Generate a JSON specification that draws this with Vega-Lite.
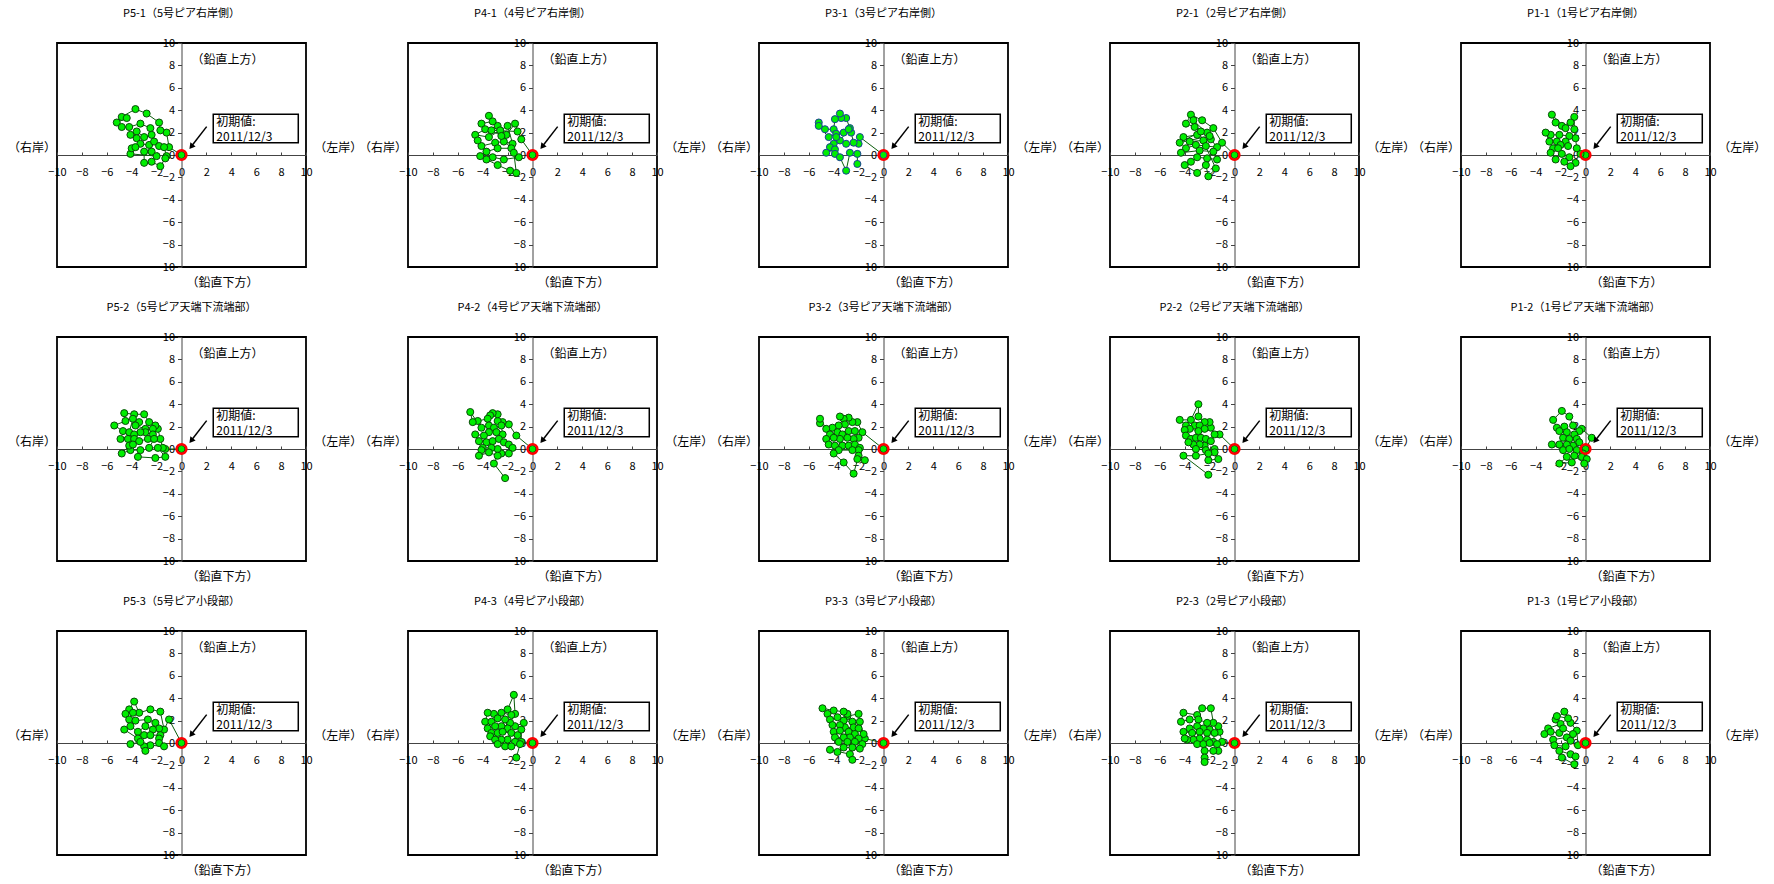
{
"$schema":"https://vega.github.io/schema/vega-lite/v6.json",
"padding":{"left":7,"top":7,"right":5,"bottom":5},
"background":"white",
"datasets":{
"titles":[
{"p":"P5-1","t":"P5-1（5号ピア右岸側）","o":1},{"p":"P4-1","t":"P4-1（4号ピア右岸側）","o":2},{"p":"P3-1","t":"P3-1（3号ピア右岸側）","o":3},{"p":"P2-1","t":"P2-1（2号ピア右岸側）","o":4},{"p":"P1-1","t":"P1-1（1号ピア右岸側）","o":5},
{"p":"P5-2","t":"P5-2（5号ピア天端下流端部）","o":6},{"p":"P4-2","t":"P4-2（4号ピア天端下流端部）","o":7},{"p":"P3-2","t":"P3-2（3号ピア天端下流端部）","o":8},{"p":"P2-2","t":"P2-2（2号ピア天端下流端部）","o":9},{"p":"P1-2","t":"P1-2（1号ピア天端下流端部）","o":10},
{"p":"P5-3","t":"P5-3（5号ピア小段部）","o":11},{"p":"P4-3","t":"P4-3（4号ピア小段部）","o":12},{"p":"P3-3","t":"P3-3（3号ピア小段部）","o":13},{"p":"P2-3","t":"P2-3（2号ピア小段部）","o":14},{"p":"P1-3","t":"P1-3（1号ピア小段部）","o":15}],
"pts":[
{"p":"P5-1","i":0,"x":0,"y":0},{"p":"P5-1","i":1,"x":-1.0,"y":0.7},{"p":"P5-1","i":2,"x":-1.2,"y":2.0},{"p":"P5-1","i":3,"x":-1.7,"y":2.2},{"p":"P5-1","i":4,"x":-1.8,"y":2.9},{"p":"P5-1","i":5,"x":-2.8,"y":3.7},{"p":"P5-1","i":6,"x":-3.7,"y":4.1},{"p":"P5-1","i":7,"x":-4.8,"y":3.4},{"p":"P5-1","i":8,"x":-4.4,"y":3.3},{"p":"P5-1","i":9,"x":-5.2,"y":2.9},{"p":"P5-1","i":10,"x":-4.8,"y":2.5},{"p":"P5-1","i":11,"x":-4.2,"y":2.5},{"p":"P5-1","i":12,"x":-3.3,"y":2.8},{"p":"P5-1","i":13,"x":-2.5,"y":2.4},{"p":"P5-1","i":14,"x":-2.4,"y":1.8},{"p":"P5-1","i":15,"x":-3.0,"y":1.6},{"p":"P5-1","i":16,"x":-3.6,"y":2.1},{"p":"P5-1","i":17,"x":-4.1,"y":1.8},{"p":"P5-1","i":18,"x":-3.6,"y":1.5},{"p":"P5-1","i":19,"x":-3.3,"y":1.0},{"p":"P5-1","i":20,"x":-2.6,"y":0.9},{"p":"P5-1","i":21,"x":-2.2,"y":1.2},{"p":"P5-1","i":22,"x":-1.8,"y":0.8},{"p":"P5-1","i":23,"x":-1.4,"y":0.7},{"p":"P5-1","i":24,"x":-1.2,"y":-0.1},{"p":"P5-1","i":25,"x":-1.3,"y":-0.3},{"p":"P5-1","i":26,"x":-1.7,"y":-1.0},{"p":"P5-1","i":27,"x":-2.4,"y":-0.6},{"p":"P5-1","i":28,"x":-3.0,"y":-0.7},{"p":"P5-1","i":29,"x":-3.0,"y":0.3},{"p":"P5-1","i":30,"x":-2.4,"y":0.3},{"p":"P5-1","i":31,"x":-2.0,"y":-0.1},{"p":"P5-1","i":32,"x":-4.1,"y":0.1},{"p":"P5-1","i":33,"x":-4.0,"y":0.6},{"p":"P5-1","i":34,"x":-3.7,"y":0.7},
{"p":"P4-1","i":0,"x":0,"y":0},{"p":"P4-1","i":1,"x":-0.9,"y":1.4},{"p":"P4-1","i":2,"x":-1.4,"y":2.8},{"p":"P4-1","i":3,"x":-2.1,"y":1.8},{"p":"P4-1","i":4,"x":-2.8,"y":2.6},{"p":"P4-1","i":5,"x":-3.5,"y":3.5},{"p":"P4-1","i":6,"x":-3.2,"y":3.0},{"p":"P4-1","i":7,"x":-4.1,"y":2.8},{"p":"P4-1","i":8,"x":-3.8,"y":2.3},{"p":"P4-1","i":9,"x":-4.6,"y":1.8},{"p":"P4-1","i":10,"x":-3.5,"y":1.6},{"p":"P4-1","i":11,"x":-2.6,"y":2.2},{"p":"P4-1","i":12,"x":-2.0,"y":2.6},{"p":"P4-1","i":13,"x":-1.6,"y":1.0},{"p":"P4-1","i":14,"x":-2.3,"y":1.2},{"p":"P4-1","i":15,"x":-3.0,"y":1.1},{"p":"P4-1","i":16,"x":-4.1,"y":0.8},{"p":"P4-1","i":17,"x":-4.4,"y":1.3},{"p":"P4-1","i":18,"x":-3.7,"y":0.3},{"p":"P4-1","i":19,"x":-2.8,"y":0.6},{"p":"P4-1","i":20,"x":-1.7,"y":0.6},{"p":"P4-1","i":21,"x":-1.1,"y":-0.2},{"p":"P4-1","i":22,"x":-2.3,"y":-0.4},{"p":"P4-1","i":23,"x":-3.2,"y":-0.2},{"p":"P4-1","i":24,"x":-3.7,"y":-0.4},{"p":"P4-1","i":25,"x":-4.2,"y":-0.1},{"p":"P4-1","i":26,"x":-2.8,"y":-0.9},{"p":"P4-1","i":27,"x":-1.8,"y":-1.4},{"p":"P4-1","i":28,"x":-1.3,"y":-1.6},{"p":"P4-1","i":29,"x":-1.5,"y":0.2},{"p":"P4-1","i":30,"x":-2.5,"y":1.7},{"p":"P4-1","i":31,"x":-3.3,"y":2.2},{"p":"P4-1","i":32,"x":-1.2,"y":2.1},
{"p":"P3-1","i":0,"x":0,"y":0},{"p":"P3-1","i":1,"x":-1.9,"y":1.6},{"p":"P3-1","i":2,"x":-2.0,"y":1.0},{"p":"P3-1","i":3,"x":-2.4,"y":1.1},{"p":"P3-1","i":4,"x":-2.6,"y":2.0},{"p":"P3-1","i":5,"x":-2.7,"y":2.4},{"p":"P3-1","i":6,"x":-3.0,"y":3.3},{"p":"P3-1","i":7,"x":-3.4,"y":3.3},{"p":"P3-1","i":8,"x":-3.5,"y":3.7},{"p":"P3-1","i":9,"x":-3.9,"y":3.2},{"p":"P3-1","i":10,"x":-4.0,"y":2.3},{"p":"P3-1","i":11,"x":-4.7,"y":2.3},{"p":"P3-1","i":12,"x":-5.2,"y":2.9},{"p":"P3-1","i":13,"x":-5.2,"y":2.6},{"p":"P3-1","i":14,"x":-4.4,"y":1.6},{"p":"P3-1","i":15,"x":-3.8,"y":1.9},{"p":"P3-1","i":16,"x":-3.2,"y":2.0},{"p":"P3-1","i":17,"x":-2.8,"y":2.3},{"p":"P3-1","i":18,"x":-3.5,"y":1.3},{"p":"P3-1","i":19,"x":-3.0,"y":1.0},{"p":"P3-1","i":20,"x":-3.8,"y":1.6},{"p":"P3-1","i":21,"x":-4.0,"y":1.0},{"p":"P3-1","i":22,"x":-4.3,"y":0.7},{"p":"P3-1","i":23,"x":-4.6,"y":0.2},{"p":"P3-1","i":24,"x":-3.9,"y":0.5},{"p":"P3-1","i":25,"x":-3.9,"y":0.1},{"p":"P3-1","i":26,"x":-3.5,"y":-0.2},{"p":"P3-1","i":27,"x":-3.0,"y":-1.4},{"p":"P3-1","i":28,"x":-2.7,"y":0.2},{"p":"P3-1","i":29,"x":-2.1,"y":0.1},{"p":"P3-1","i":30,"x":-2.1,"y":-0.8},
{"p":"P2-1","i":0,"x":0,"y":0},{"p":"P2-1","i":1,"x":-1.0,"y":1.1},{"p":"P2-1","i":2,"x":-1.7,"y":2.4},{"p":"P2-1","i":3,"x":-2.6,"y":3.1},{"p":"P2-1","i":4,"x":-3.5,"y":3.6},{"p":"P2-1","i":5,"x":-3.9,"y":2.8},{"p":"P2-1","i":6,"x":-3.2,"y":2.5},{"p":"P2-1","i":7,"x":-2.2,"y":2.0},{"p":"P2-1","i":8,"x":-3.0,"y":1.8},{"p":"P2-1","i":9,"x":-4.1,"y":1.6},{"p":"P2-1","i":10,"x":-3.6,"y":1.2},{"p":"P2-1","i":11,"x":-2.5,"y":1.3},{"p":"P2-1","i":12,"x":-1.9,"y":1.4},{"p":"P2-1","i":13,"x":-1.4,"y":0.7},{"p":"P2-1","i":14,"x":-2.3,"y":0.8},{"p":"P2-1","i":15,"x":-3.1,"y":0.9},{"p":"P2-1","i":16,"x":-3.9,"y":0.6},{"p":"P2-1","i":17,"x":-4.3,"y":0.2},{"p":"P2-1","i":18,"x":-2.8,"y":0.4},{"p":"P2-1","i":19,"x":-1.7,"y":0.3},{"p":"P2-1","i":20,"x":-1.4,"y":-0.4},{"p":"P2-1","i":21,"x":-2.2,"y":-0.3},{"p":"P2-1","i":22,"x":-3.0,"y":-0.2},{"p":"P2-1","i":23,"x":-3.5,"y":-0.6},{"p":"P2-1","i":24,"x":-4.0,"y":-0.9},{"p":"P2-1","i":25,"x":-3.0,"y":-1.6},{"p":"P2-1","i":26,"x":-2.3,"y":-0.9},{"p":"P2-1","i":27,"x":-2.1,"y":-1.9},{"p":"P2-1","i":28,"x":-1.5,"y":-1.2},{"p":"P2-1","i":29,"x":-3.3,"y":3.1},{"p":"P2-1","i":30,"x":-2.0,"y":1.7},{"p":"P2-1","i":31,"x":-4.4,"y":1.1},{"p":"P2-1","i":32,"x":-2.7,"y":2.1},
{"p":"P1-1","i":0,"x":0,"y":0},{"p":"P1-1","i":1,"x":-0.4,"y":0.1},{"p":"P1-1","i":2,"x":-0.7,"y":0.6},{"p":"P1-1","i":3,"x":-0.8,"y":1.5},{"p":"P1-1","i":4,"x":-0.9,"y":2.3},{"p":"P1-1","i":5,"x":-0.9,"y":3.4},{"p":"P1-1","i":6,"x":-1.2,"y":2.9},{"p":"P1-1","i":7,"x":-1.9,"y":2.6},{"p":"P1-1","i":8,"x":-2.4,"y":2.9},{"p":"P1-1","i":9,"x":-2.7,"y":3.6},{"p":"P1-1","i":10,"x":-1.6,"y":2.4},{"p":"P1-1","i":11,"x":-1.3,"y":1.7},{"p":"P1-1","i":12,"x":-2.1,"y":1.8},{"p":"P1-1","i":13,"x":-2.8,"y":1.8},{"p":"P1-1","i":14,"x":-3.2,"y":2.0},{"p":"P1-1","i":15,"x":-2.9,"y":1.2},{"p":"P1-1","i":16,"x":-2.3,"y":1.2},{"p":"P1-1","i":17,"x":-1.6,"y":1.2},{"p":"P1-1","i":18,"x":-1.4,"y":0.8},{"p":"P1-1","i":19,"x":-2.0,"y":0.9},{"p":"P1-1","i":20,"x":-2.6,"y":0.6},{"p":"P1-1","i":21,"x":-2.2,"y":0.6},{"p":"P1-1","i":22,"x":-2.8,"y":0.2},{"p":"P1-1","i":23,"x":-2.4,"y":-0.4},{"p":"P1-1","i":24,"x":-1.9,"y":0.1},{"p":"P1-1","i":25,"x":-1.3,"y":-0.2},{"p":"P1-1","i":26,"x":-0.8,"y":-0.7},{"p":"P1-1","i":27,"x":-1.2,"y":-1.0},{"p":"P1-1","i":28,"x":-1.7,"y":-0.6},
{"p":"P5-2","i":0,"x":0,"y":0},{"p":"P5-2","i":1,"x":-1.3,"y":0.0},{"p":"P5-2","i":2,"x":-1.5,"y":0.1},{"p":"P5-2","i":3,"x":-1.7,"y":0.9},{"p":"P5-2","i":4,"x":-1.9,"y":1.8},{"p":"P5-2","i":5,"x":-2.1,"y":2.1},{"p":"P5-2","i":6,"x":-2.6,"y":2.4},{"p":"P5-2","i":7,"x":-3.0,"y":3.1},{"p":"P5-2","i":8,"x":-3.8,"y":3.1},{"p":"P5-2","i":9,"x":-4.6,"y":3.2},{"p":"P5-2","i":10,"x":-4.5,"y":2.5},{"p":"P5-2","i":11,"x":-5.4,"y":2.1},{"p":"P5-2","i":12,"x":-4.7,"y":1.6},{"p":"P5-2","i":13,"x":-4.2,"y":1.5},{"p":"P5-2","i":14,"x":-3.9,"y":2.7},{"p":"P5-2","i":15,"x":-3.4,"y":2.4},{"p":"P5-2","i":16,"x":-3.7,"y":2.1},{"p":"P5-2","i":17,"x":-2.9,"y":1.8},{"p":"P5-2","i":18,"x":-2.3,"y":1.8},{"p":"P5-2","i":19,"x":-2.3,"y":1.3},{"p":"P5-2","i":20,"x":-2.9,"y":1.5},{"p":"P5-2","i":21,"x":-3.3,"y":1.5},{"p":"P5-2","i":22,"x":-3.8,"y":1.3},{"p":"P5-2","i":23,"x":-4.9,"y":0.9},{"p":"P5-2","i":24,"x":-4.3,"y":0.9},{"p":"P5-2","i":25,"x":-3.8,"y":0.9},{"p":"P5-2","i":26,"x":-3.4,"y":0.7},{"p":"P5-2","i":27,"x":-2.7,"y":0.9},{"p":"P5-2","i":28,"x":-2.2,"y":0.9},{"p":"P5-2","i":29,"x":-2.6,"y":0.1},{"p":"P5-2","i":30,"x":-1.9,"y":0.1},{"p":"P5-2","i":31,"x":-1.3,"y":-0.7},{"p":"P5-2","i":32,"x":-2.1,"y":-0.8},{"p":"P5-2","i":33,"x":-3.5,"y":-0.7},{"p":"P5-2","i":34,"x":-3.3,"y":-0.1},{"p":"P5-2","i":35,"x":-4.1,"y":-0.1},{"p":"P5-2","i":36,"x":-4.8,"y":-0.4},{"p":"P5-2","i":37,"x":-4.2,"y":0.3},{"p":"P5-2","i":38,"x":-3.9,"y":0.4},
{"p":"P4-2","i":0,"x":0,"y":0},{"p":"P4-2","i":1,"x":-1.3,"y":1.2},{"p":"P4-2","i":2,"x":-1.9,"y":2.2},{"p":"P4-2","i":3,"x":-2.4,"y":2.4},{"p":"P4-2","i":4,"x":-2.8,"y":2.5},{"p":"P4-2","i":5,"x":-2.8,"y":3.1},{"p":"P4-2","i":6,"x":-3.2,"y":3.2},{"p":"P4-2","i":7,"x":-3.4,"y":3.0},{"p":"P4-2","i":8,"x":-3.6,"y":2.7},{"p":"P4-2","i":9,"x":-4.4,"y":2.5},{"p":"P4-2","i":10,"x":-4.8,"y":2.4},{"p":"P4-2","i":11,"x":-5.0,"y":3.3},{"p":"P4-2","i":12,"x":-4.1,"y":1.9},{"p":"P4-2","i":13,"x":-3.5,"y":2.1},{"p":"P4-2","i":14,"x":-3.1,"y":1.9},{"p":"P4-2","i":15,"x":-2.5,"y":2.1},{"p":"P4-2","i":16,"x":-2.4,"y":1.3},{"p":"P4-2","i":17,"x":-2.9,"y":1.5},{"p":"P4-2","i":18,"x":-3.5,"y":1.5},{"p":"P4-2","i":19,"x":-3.9,"y":1.2},{"p":"P4-2","i":20,"x":-4.6,"y":1.3},{"p":"P4-2","i":21,"x":-4.3,"y":0.7},{"p":"P4-2","i":22,"x":-3.7,"y":0.6},{"p":"P4-2","i":23,"x":-3.2,"y":0.7},{"p":"P4-2","i":24,"x":-2.7,"y":0.9},{"p":"P4-2","i":25,"x":-2.3,"y":0.6},{"p":"P4-2","i":26,"x":-1.9,"y":0.4},{"p":"P4-2","i":27,"x":-1.6,"y":0.1},{"p":"P4-2","i":28,"x":-1.9,"y":-0.4},{"p":"P4-2","i":29,"x":-2.5,"y":-0.4},{"p":"P4-2","i":30,"x":-2.8,"y":0.0},{"p":"P4-2","i":31,"x":-3.3,"y":0.1},{"p":"P4-2","i":32,"x":-4.0,"y":0.1},{"p":"P4-2","i":33,"x":-4.1,"y":-0.1},{"p":"P4-2","i":34,"x":-4.3,"y":-0.6},{"p":"P4-2","i":35,"x":-3.5,"y":-0.3},{"p":"P4-2","i":36,"x":-2.8,"y":-0.6},{"p":"P4-2","i":37,"x":-3.1,"y":-1.3},{"p":"P4-2","i":38,"x":-2.2,"y":-2.6},
{"p":"P3-2","i":0,"x":0,"y":0},{"p":"P3-2","i":1,"x":-1.7,"y":1.5},{"p":"P3-2","i":2,"x":-2.1,"y":2.4},{"p":"P3-2","i":3,"x":-2.5,"y":2.4},{"p":"P3-2","i":4,"x":-2.8,"y":2.8},{"p":"P3-2","i":5,"x":-3.2,"y":2.7},{"p":"P3-2","i":6,"x":-3.5,"y":2.9},{"p":"P3-2","i":7,"x":-3.1,"y":2.2},{"p":"P3-2","i":8,"x":-3.6,"y":2.1},{"p":"P3-2","i":9,"x":-4.1,"y":1.9},{"p":"P3-2","i":10,"x":-4.6,"y":1.8},{"p":"P3-2","i":11,"x":-5.1,"y":2.3},{"p":"P3-2","i":12,"x":-5.1,"y":2.7},{"p":"P3-2","i":13,"x":-4.3,"y":1.3},{"p":"P3-2","i":14,"x":-3.7,"y":1.5},{"p":"P3-2","i":15,"x":-3.3,"y":1.3},{"p":"P3-2","i":16,"x":-2.8,"y":1.6},{"p":"P3-2","i":17,"x":-2.3,"y":1.6},{"p":"P3-2","i":18,"x":-2.0,"y":1.0},{"p":"P3-2","i":19,"x":-2.4,"y":0.9},{"p":"P3-2","i":20,"x":-2.9,"y":1.0},{"p":"P3-2","i":21,"x":-3.5,"y":0.9},{"p":"P3-2","i":22,"x":-4.0,"y":1.0},{"p":"P3-2","i":23,"x":-4.6,"y":0.9},{"p":"P3-2","i":24,"x":-4.4,"y":0.4},{"p":"P3-2","i":25,"x":-3.9,"y":0.3},{"p":"P3-2","i":26,"x":-3.3,"y":0.3},{"p":"P3-2","i":27,"x":-2.8,"y":0.3},{"p":"P3-2","i":28,"x":-2.3,"y":0.4},{"p":"P3-2","i":29,"x":-1.9,"y":0.1},{"p":"P3-2","i":30,"x":-2.0,"y":-0.1},{"p":"P3-2","i":31,"x":-2.5,"y":-0.1},{"p":"P3-2","i":32,"x":-3.6,"y":-0.1},{"p":"P3-2","i":33,"x":-4.0,"y":-0.4},{"p":"P3-2","i":34,"x":-3.2,"y":-1.2},{"p":"P3-2","i":35,"x":-2.4,"y":-2.2},{"p":"P3-2","i":36,"x":-2.0,"y":-0.6},{"p":"P3-2","i":37,"x":-2.1,"y":-0.9},{"p":"P3-2","i":38,"x":-1.5,"y":-1.0},
{"p":"P2-2","i":0,"x":0,"y":0},{"p":"P2-2","i":1,"x":-1.2,"y":1.3},{"p":"P2-2","i":2,"x":-1.6,"y":1.3},{"p":"P2-2","i":3,"x":-1.9,"y":1.9},{"p":"P2-2","i":4,"x":-2.0,"y":2.4},{"p":"P2-2","i":5,"x":-2.4,"y":2.4},{"p":"P2-2","i":6,"x":-2.9,"y":2.9},{"p":"P2-2","i":7,"x":-2.9,"y":4.0},{"p":"P2-2","i":8,"x":-3.5,"y":2.6},{"p":"P2-2","i":9,"x":-4.4,"y":2.6},{"p":"P2-2","i":10,"x":-3.9,"y":2.1},{"p":"P2-2","i":11,"x":-3.2,"y":2.1},{"p":"P2-2","i":12,"x":-2.8,"y":2.1},{"p":"P2-2","i":13,"x":-2.4,"y":1.8},{"p":"P2-2","i":14,"x":-2.9,"y":1.6},{"p":"P2-2","i":15,"x":-3.6,"y":1.8},{"p":"P2-2","i":16,"x":-4.0,"y":1.7},{"p":"P2-2","i":17,"x":-3.9,"y":1.2},{"p":"P2-2","i":18,"x":-3.5,"y":0.9},{"p":"P2-2","i":19,"x":-3.1,"y":1.0},{"p":"P2-2","i":20,"x":-2.7,"y":1.0},{"p":"P2-2","i":21,"x":-2.3,"y":0.9},{"p":"P2-2","i":22,"x":-1.9,"y":0.7},{"p":"P2-2","i":23,"x":-2.4,"y":0.3},{"p":"P2-2","i":24,"x":-2.8,"y":0.4},{"p":"P2-2","i":25,"x":-3.3,"y":0.4},{"p":"P2-2","i":26,"x":-3.7,"y":0.6},{"p":"P2-2","i":27,"x":-3.1,"y":0.0},{"p":"P2-2","i":28,"x":-2.3,"y":-0.1},{"p":"P2-2","i":29,"x":-1.6,"y":0.0},{"p":"P2-2","i":30,"x":-1.6,"y":-0.3},{"p":"P2-2","i":31,"x":-1.3,"y":-0.9},{"p":"P2-2","i":32,"x":-2.1,"y":-1.0},{"p":"P2-2","i":33,"x":-2.1,"y":-0.4},{"p":"P2-2","i":34,"x":-3.1,"y":-0.6},{"p":"P2-2","i":35,"x":-4.1,"y":-0.6},{"p":"P2-2","i":36,"x":-2.1,"y":-2.3},
{"p":"P1-2","i":0,"x":0,"y":0},{"p":"P1-2","i":1,"x":0.5,"y":1.0},{"p":"P1-2","i":2,"x":-0.3,"y":1.8},{"p":"P1-2","i":3,"x":-0.5,"y":1.6},{"p":"P1-2","i":4,"x":-1.0,"y":2.1},{"p":"P1-2","i":5,"x":-1.3,"y":2.9},{"p":"P1-2","i":6,"x":-1.9,"y":3.4},{"p":"P1-2","i":7,"x":-2.6,"y":2.6},{"p":"P1-2","i":8,"x":-2.3,"y":1.9},{"p":"P1-2","i":9,"x":-1.7,"y":2.0},{"p":"P1-2","i":10,"x":-1.5,"y":1.5},{"p":"P1-2","i":11,"x":-2.1,"y":1.6},{"p":"P1-2","i":12,"x":-1.8,"y":1.0},{"p":"P1-2","i":13,"x":-1.3,"y":0.9},{"p":"P1-2","i":14,"x":-0.9,"y":1.3},{"p":"P1-2","i":15,"x":-0.7,"y":0.9},{"p":"P1-2","i":16,"x":-0.5,"y":0.6},{"p":"P1-2","i":17,"x":-1.0,"y":0.3},{"p":"P1-2","i":18,"x":-1.5,"y":0.4},{"p":"P1-2","i":19,"x":-2.1,"y":0.4},{"p":"P1-2","i":20,"x":-2.7,"y":0.4},{"p":"P1-2","i":21,"x":-1.8,"y":-0.1},{"p":"P1-2","i":22,"x":-1.3,"y":0.0},{"p":"P1-2","i":23,"x":-0.7,"y":-0.1},{"p":"P1-2","i":24,"x":-0.2,"y":-0.4},{"p":"P1-2","i":25,"x":-0.3,"y":-0.7},{"p":"P1-2","i":26,"x":0.1,"y":-0.9},{"p":"P1-2","i":27,"x":-0.1,"y":-1.3},{"p":"P1-2","i":28,"x":-0.9,"y":-0.6},{"p":"P1-2","i":29,"x":-1.5,"y":-0.7},{"p":"P1-2","i":30,"x":-2.1,"y":-1.3},{"p":"P1-2","i":31,"x":-1.1,"y":-1.2},
{"p":"P5-3","i":0,"x":0,"y":0},{"p":"P5-3","i":1,"x":-1.0,"y":2.1},{"p":"P5-3","i":2,"x":-1.4,"y":1.2},{"p":"P5-3","i":3,"x":-1.7,"y":2.8},{"p":"P5-3","i":4,"x":-2.5,"y":3.0},{"p":"P5-3","i":5,"x":-3.4,"y":2.7},{"p":"P5-3","i":6,"x":-3.8,"y":3.7},{"p":"P5-3","i":7,"x":-4.2,"y":3.0},{"p":"P5-3","i":8,"x":-4.5,"y":2.6},{"p":"P5-3","i":9,"x":-3.9,"y":2.7},{"p":"P5-3","i":10,"x":-4.2,"y":2.1},{"p":"P5-3","i":11,"x":-3.7,"y":2.0},{"p":"P5-3","i":12,"x":-2.7,"y":2.1},{"p":"P5-3","i":13,"x":-2.1,"y":1.8},{"p":"P5-3","i":14,"x":-1.8,"y":1.3},{"p":"P5-3","i":15,"x":-2.3,"y":1.2},{"p":"P5-3","i":16,"x":-2.9,"y":1.5},{"p":"P5-3","i":17,"x":-3.5,"y":1.0},{"p":"P5-3","i":18,"x":-4.1,"y":1.5},{"p":"P5-3","i":19,"x":-4.6,"y":1.2},{"p":"P5-3","i":20,"x":-3.5,"y":0.4},{"p":"P5-3","i":21,"x":-3.0,"y":0.7},{"p":"P5-3","i":22,"x":-2.5,"y":0.7},{"p":"P5-3","i":23,"x":-1.7,"y":0.7},{"p":"P5-3","i":24,"x":-1.8,"y":0.4},{"p":"P5-3","i":25,"x":-1.8,"y":0.0},{"p":"P5-3","i":26,"x":-1.4,"y":-0.3},{"p":"P5-3","i":27,"x":-2.5,"y":-0.2},{"p":"P5-3","i":28,"x":-3.0,"y":-0.3},{"p":"P5-3","i":29,"x":-2.9,"y":-0.7},{"p":"P5-3","i":30,"x":-3.3,"y":0.1},{"p":"P5-3","i":31,"x":-4.1,"y":-0.1},
{"p":"P4-3","i":0,"x":0,"y":0},{"p":"P4-3","i":1,"x":-0.9,"y":0.1},{"p":"P4-3","i":2,"x":-0.9,"y":1.2},{"p":"P4-3","i":3,"x":-0.7,"y":1.8},{"p":"P4-3","i":4,"x":-1.4,"y":1.5},{"p":"P4-3","i":5,"x":-1.8,"y":1.8},{"p":"P4-3","i":6,"x":-1.4,"y":2.6},{"p":"P4-3","i":7,"x":-1.5,"y":4.3},{"p":"P4-3","i":8,"x":-2.0,"y":3.0},{"p":"P4-3","i":9,"x":-1.7,"y":2.5},{"p":"P4-3","i":10,"x":-2.5,"y":2.7},{"p":"P4-3","i":11,"x":-3.1,"y":2.6},{"p":"P4-3","i":12,"x":-3.6,"y":2.7},{"p":"P4-3","i":13,"x":-3.8,"y":1.9},{"p":"P4-3","i":14,"x":-3.3,"y":1.9},{"p":"P4-3","i":15,"x":-2.8,"y":2.2},{"p":"P4-3","i":16,"x":-2.2,"y":2.1},{"p":"P4-3","i":17,"x":-2.0,"y":1.3},{"p":"P4-3","i":18,"x":-2.5,"y":1.5},{"p":"P4-3","i":19,"x":-3.0,"y":1.5},{"p":"P4-3","i":20,"x":-3.6,"y":1.3},{"p":"P4-3","i":21,"x":-3.3,"y":0.9},{"p":"P4-3","i":22,"x":-3.4,"y":0.6},{"p":"P4-3","i":23,"x":-2.8,"y":0.9},{"p":"P4-3","i":24,"x":-2.4,"y":1.0},{"p":"P4-3","i":25,"x":-1.7,"y":0.9},{"p":"P4-3","i":26,"x":-1.2,"y":0.7},{"p":"P4-3","i":27,"x":-1.4,"y":0.1},{"p":"P4-3","i":28,"x":-2.0,"y":0.3},{"p":"P4-3","i":29,"x":-2.5,"y":0.3},{"p":"P4-3","i":30,"x":-3.0,"y":0.3},{"p":"P4-3","i":31,"x":-2.8,"y":-0.1},{"p":"P4-3","i":32,"x":-2.2,"y":-0.3},{"p":"P4-3","i":33,"x":-1.7,"y":-0.3},{"p":"P4-3","i":34,"x":-1.0,"y":-0.1},{"p":"P4-3","i":35,"x":-1.3,"y":-1.3},
{"p":"P3-3","i":0,"x":0,"y":0},{"p":"P3-3","i":1,"x":-1.5,"y":0.4},{"p":"P3-3","i":2,"x":-1.6,"y":0.8},{"p":"P3-3","i":3,"x":-1.9,"y":1.9},{"p":"P3-3","i":4,"x":-2.0,"y":2.6},{"p":"P3-3","i":5,"x":-2.9,"y":2.4},{"p":"P3-3","i":6,"x":-2.9,"y":2.6},{"p":"P3-3","i":7,"x":-3.2,"y":2.8},{"p":"P3-3","i":8,"x":-4.0,"y":2.9},{"p":"P3-3","i":9,"x":-4.9,"y":3.1},{"p":"P3-3","i":10,"x":-4.5,"y":2.6},{"p":"P3-3","i":11,"x":-4.3,"y":2.1},{"p":"P3-3","i":12,"x":-3.7,"y":2.3},{"p":"P3-3","i":13,"x":-3.2,"y":2.0},{"p":"P3-3","i":14,"x":-2.5,"y":1.9},{"p":"P3-3","i":15,"x":-2.4,"y":1.4},{"p":"P3-3","i":16,"x":-2.0,"y":1.3},{"p":"P3-3","i":17,"x":-3.1,"y":1.4},{"p":"P3-3","i":18,"x":-3.5,"y":1.6},{"p":"P3-3","i":19,"x":-4.1,"y":1.6},{"p":"P3-3","i":20,"x":-4.0,"y":1.0},{"p":"P3-3","i":21,"x":-3.5,"y":1.1},{"p":"P3-3","i":22,"x":-2.8,"y":1.0},{"p":"P3-3","i":23,"x":-2.3,"y":0.8},{"p":"P3-3","i":24,"x":-2.0,"y":0.4},{"p":"P3-3","i":25,"x":-2.7,"y":0.5},{"p":"P3-3","i":26,"x":-3.2,"y":0.5},{"p":"P3-3","i":27,"x":-3.9,"y":0.5},{"p":"P3-3","i":28,"x":-3.6,"y":0.1},{"p":"P3-3","i":29,"x":-2.9,"y":0.1},{"p":"P3-3","i":30,"x":-2.3,"y":0.1},{"p":"P3-3","i":31,"x":-1.7,"y":-0.1},{"p":"P3-3","i":32,"x":-1.9,"y":-0.5},{"p":"P3-3","i":33,"x":-2.5,"y":-0.4},{"p":"P3-3","i":34,"x":-3.2,"y":-0.4},{"p":"P3-3","i":35,"x":-3.7,"y":-0.8},{"p":"P3-3","i":36,"x":-4.3,"y":-0.6},{"p":"P3-3","i":37,"x":-2.7,"y":-1.0},{"p":"P3-3","i":38,"x":-2.5,"y":-1.5},
{"p":"P2-3","i":0,"x":0,"y":0},{"p":"P2-3","i":1,"x":-1.0,"y":0.1},{"p":"P2-3","i":2,"x":-1.2,"y":1.0},{"p":"P2-3","i":3,"x":-1.3,"y":1.5},{"p":"P2-3","i":4,"x":-1.7,"y":1.8},{"p":"P2-3","i":5,"x":-1.9,"y":3.1},{"p":"P2-3","i":6,"x":-2.6,"y":3.1},{"p":"P2-3","i":7,"x":-3.0,"y":2.5},{"p":"P2-3","i":8,"x":-4.1,"y":2.7},{"p":"P2-3","i":9,"x":-4.3,"y":1.9},{"p":"P2-3","i":10,"x":-3.6,"y":2.1},{"p":"P2-3","i":11,"x":-2.9,"y":2.1},{"p":"P2-3","i":12,"x":-2.2,"y":1.8},{"p":"P2-3","i":13,"x":-2.0,"y":1.2},{"p":"P2-3","i":14,"x":-2.5,"y":1.3},{"p":"P2-3","i":15,"x":-3.0,"y":1.5},{"p":"P2-3","i":16,"x":-3.6,"y":1.3},{"p":"P2-3","i":17,"x":-4.1,"y":1.0},{"p":"P2-3","i":18,"x":-3.4,"y":0.9},{"p":"P2-3","i":19,"x":-2.8,"y":1.0},{"p":"P2-3","i":20,"x":-2.2,"y":0.9},{"p":"P2-3","i":21,"x":-1.6,"y":0.9},{"p":"P2-3","i":22,"x":-1.7,"y":0.1},{"p":"P2-3","i":23,"x":-2.2,"y":0.3},{"p":"P2-3","i":24,"x":-2.8,"y":0.4},{"p":"P2-3","i":25,"x":-3.3,"y":0.3},{"p":"P2-3","i":26,"x":-3.8,"y":0.3},{"p":"P2-3","i":27,"x":-4.0,"y":0.4},{"p":"P2-3","i":28,"x":-3.0,"y":-0.1},{"p":"P2-3","i":29,"x":-2.5,"y":-0.1},{"p":"P2-3","i":30,"x":-2.0,"y":0.0},{"p":"P2-3","i":31,"x":-1.4,"y":-0.1},{"p":"P2-3","i":32,"x":-1.3,"y":-0.7},{"p":"P2-3","i":33,"x":-1.7,"y":-0.7},{"p":"P2-3","i":34,"x":-2.4,"y":-0.7},{"p":"P2-3","i":35,"x":-2.4,"y":-1.3},{"p":"P2-3","i":36,"x":-2.4,"y":-1.7},
{"p":"P1-3","i":0,"x":0,"y":0},{"p":"P1-3","i":1,"x":-0.6,"y":-0.2},{"p":"P1-3","i":2,"x":-0.7,"y":1.1},{"p":"P1-3","i":3,"x":-1.2,"y":1.8},{"p":"P1-3","i":4,"x":-1.7,"y":2.8},{"p":"P1-3","i":5,"x":-2.4,"y":2.1},{"p":"P1-3","i":6,"x":-2.3,"y":2.4},{"p":"P1-3","i":7,"x":-1.4,"y":2.2},{"p":"P1-3","i":8,"x":-2.0,"y":1.7},{"p":"P1-3","i":9,"x":-3.0,"y":1.3},{"p":"P1-3","i":10,"x":-3.3,"y":0.8},{"p":"P1-3","i":11,"x":-2.8,"y":1.0},{"p":"P1-3","i":12,"x":-2.1,"y":0.9},{"p":"P1-3","i":13,"x":-1.8,"y":1.3},{"p":"P1-3","i":14,"x":-1.0,"y":0.8},{"p":"P1-3","i":15,"x":-1.5,"y":0.5},{"p":"P1-3","i":16,"x":-2.6,"y":0.3},{"p":"P1-3","i":17,"x":-2.5,"y":-0.2},{"p":"P1-3","i":18,"x":-1.6,"y":-0.3},{"p":"P1-3","i":19,"x":-1.2,"y":0.2},{"p":"P1-3","i":20,"x":-2.1,"y":-0.7},{"p":"P1-3","i":21,"x":-1.2,"y":-1.0},{"p":"P1-3","i":22,"x":-0.8,"y":-1.2},{"p":"P1-3","i":23,"x":-0.9,"y":-1.9},{"p":"P1-3","i":24,"x":-1.9,"y":-1.3}
]},
"data":{"name":"pts"},
"transform":[{"lookup":"p","from":{"data":{"name":"titles"},"key":"p","fields":["t","o"]}}],
"facet":{"field":"t","type":"nominal","title":null,"sort":{"field":"o","op":"min"},
  "header":{"labelFont":"Noto Sans CJK JP","labelFontSize":11,"labelColor":"black","labelPadding":18}},
"columns":5,
"spacing":{"row":70,"column":102},
"bounds":"flush",
"resolve":{"axis":{"x":"independent","y":"independent"}},
"spec":{
  "width":249,"height":224,
  "layer":[
    {"mark":{"type":"line","color":"#0b5d0b","strokeWidth":1},
     "encoding":{
       "x":{"field":"x","type":"quantitative","scale":{"domain":[-10,10],"nice":false,"zero":false},
            "axis":{"title":null,"values":[-10,-8,-6,-4,-2,0,2,4,6,8,10],"tickCount":21,"offset":-112,"tickSize":-3,"labelPadding":14,"labelOverlap":false,"labelFlush":false,"labelFontSize":11}},
       "y":{"field":"y","type":"quantitative","scale":{"domain":[-10,10],"nice":false,"zero":false},
            "axis":{"title":null,"values":[-10,-8,-6,-4,-2,0,2,4,6,8,10],"tickCount":21,"offset":-124.5,"tickSize":4,"labelPadding":3,"labelOverlap":false,"labelFlush":false,"labelFontSize":11}},
       "order":{"field":"i","type":"quantitative"}}},
    {"mark":{"type":"circle","fill":"#00ee00","fillOpacity":1,"size":50,"strokeWidth":1,"opacity":1},
     "encoding":{
       "x":{"field":"x","type":"quantitative"},
       "y":{"field":"y","type":"quantitative"},
       "stroke":{"condition":{"test":"datum.p === 'P3-1'","value":"#1c3d99"},"value":"#0a4a0a"}}},
    {"transform":[{"filter":"datum.i === 0"}],
     "mark":{"type":"point","shape":"circle","filled":false,"stroke":"#ff0000","strokeWidth":2.5,"size":95,"opacity":1},
     "encoding":{"x":{"field":"x","type":"quantitative"},"y":{"field":"y","type":"quantitative"}}},
    {"transform":[{"filter":"datum.i === 0"}],
     "mark":{"type":"rule","color":"black","strokeWidth":1.5},
     "encoding":{"x":{"datum":2.02,"type":"quantitative"},"y":{"datum":2.53,"type":"quantitative"},"x2":{"datum":0.8},"y2":{"datum":0.78}}},
    {"transform":[{"filter":"datum.i === 0"}],
     "mark":{"type":"point","shape":"triangle-up","filled":true,"color":"black","size":45,"angle":218,"opacity":1},
     "encoding":{"x":{"datum":0.78,"type":"quantitative"},"y":{"datum":0.75,"type":"quantitative"}}},
    {"transform":[{"filter":"datum.i === 0"}],
     "mark":{"type":"rect","fill":"white","stroke":"black","strokeWidth":1.5},
     "encoding":{"x":{"datum":2.55,"type":"quantitative"},"x2":{"datum":9.38},"y":{"datum":3.63,"type":"quantitative"},"y2":{"datum":1.1}}},
    {"transform":[{"filter":"datum.i === 0"}],
     "mark":{"type":"text","text":"初期値:","align":"left","baseline":"middle","fontSize":12,"color":"black"},
     "encoding":{"x":{"datum":2.8,"type":"quantitative"},"y":{"datum":2.92,"type":"quantitative"}}},
    {"transform":[{"filter":"datum.i === 0"}],
     "mark":{"type":"text","text":"2011/12/3","align":"left","baseline":"middle","fontSize":12,"color":"black"},
     "encoding":{"x":{"datum":2.8,"type":"quantitative"},"y":{"datum":1.63,"type":"quantitative"}}},
    {"transform":[{"filter":"datum.i === 0"}],
     "mark":{"type":"text","text":"（鉛直上方）","align":"center","baseline":"middle","fontSize":12,"color":"black"},
     "encoding":{"x":{"datum":3.7,"type":"quantitative"},"y":{"datum":8.5,"type":"quantitative"}}},
    {"transform":[{"filter":"datum.i === 0"}],
     "mark":{"type":"text","text":"（鉛直下方）","align":"center","baseline":"middle","fontSize":12,"color":"black"},
     "encoding":{"x":{"datum":3.3,"type":"quantitative"},"y":{"datum":-11.45,"type":"quantitative"}}},
    {"transform":[{"filter":"datum.i === 0"}],
     "mark":{"type":"text","text":"（右岸）","align":"center","baseline":"middle","fontSize":12,"color":"black"},
     "encoding":{"x":{"datum":-12.0,"type":"quantitative"},"y":{"datum":0.6,"type":"quantitative"}}},
    {"transform":[{"filter":"datum.i === 0"}],
     "mark":{"type":"text","text":"（左岸）","align":"center","baseline":"middle","fontSize":12,"color":"black"},
     "encoding":{"x":{"datum":12.6,"type":"quantitative"},"y":{"datum":0.6,"type":"quantitative"}}}
  ]
},
"config":{
  "font":"Noto Sans CJK JP",
  "view":{"stroke":"black","strokeWidth":1.8},
  "axis":{"grid":false,"labelFlush":false,"labelOverlap":false,"domainColor":"#444","tickColor":"#444","domainWidth":1,"tickWidth":1,"labelFontSize":11,"labelColor":"black","labelFont":"Noto Sans CJK JP"}
}
}
